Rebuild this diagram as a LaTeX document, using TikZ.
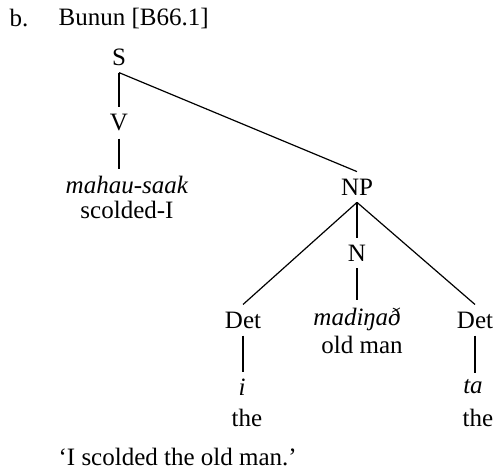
\documentclass[tikz,border=0pt]{standalone}
\usepackage{fontspec}
\setmainfont{Liberation Serif}
\begin{document}
\begin{tikzpicture}[x=0.5pt, y=-0.5pt, line width=0.6pt,
  every node/.style={font=\fontsize{12.5}{15}\selectfont, inner sep=3.3pt}]
\useasboundingbox (0,0) rectangle (496,471);
% heading
\node (label) at (19,18) {b.};
\node[anchor=west, inner xsep=0pt] (lang) at (58,18) {Bunun [B66.1]};
% tree
\node (S) at (119,57) {S};
\node (V) at (119,123) {V};
\node (verb) at (127,185) {\textit{mahau-saak}};
\node (verbgl) at (127,210) {scolded-I};
\node (NP) at (357,187) {NP};
\node (N) at (357,253) {N};
\node (noun) at (357,319) {\textit{madiŋað}};
\node (noungl) at (362,345) {old man};
\node (detL) at (243,320) {Det};
\node (detLw) at (242,387) {\textit{i}};
\node (detLgl) at (247,418) {the};
\node (detR) at (475,320) {Det};
\node (detRw) at (473,387) {\textit{ta}};
\node (detRgl) at (478,418) {the};
% translation
\node[anchor=west, inner xsep=0pt] (trans) at (58,457) {‘I scolded the old man.’};
% branches
\draw (S.south) -- (V.north);
\draw (S.south) -- (NP.north);
\draw (V.south) -- (V.south |- verb.north);
\draw (NP.south) -- (detL.north);
\draw (NP.south) -- (N.north);
\draw (NP.south) -- (detR.north);
\draw (N.south) -- (N.south |- noun.north);
\draw (detL.south) -- (detL.south |- detLw.north);
\draw (detR.south) -- (detR.south |- detRw.north);
\end{tikzpicture}
\end{document}
